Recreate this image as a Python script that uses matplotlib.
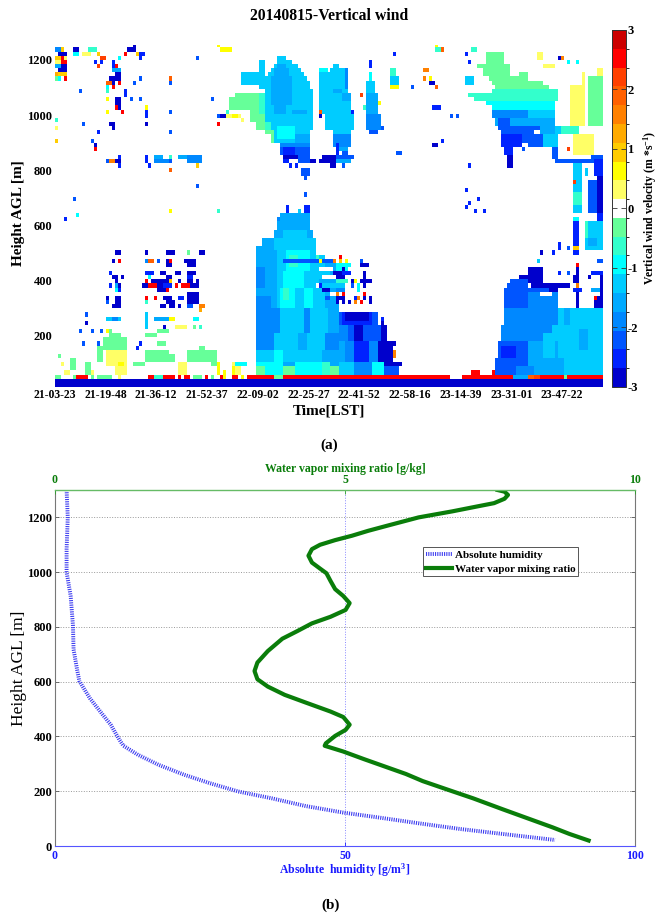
import numpy as np
import matplotlib as mpl
mpl.use('Agg')
import matplotlib.pyplot as plt
from matplotlib.colors import ListedColormap, BoundaryNorm

plt.rcParams['font.family'] = ['Liberation Serif', 'DejaVu Serif']
plt.rcParams['mathtext.fontset'] = 'custom'
plt.rcParams['mathtext.rm'] = 'Liberation Serif:bold'
plt.rcParams['mathtext.default'] = 'rm'

# panel a: colour levels of vertical wind (m/s)
level_letters = list('abcdefghiwjklmnopqr')
level_values = [-2.84, -2.53, -2.21, -1.89, -1.58, -1.26, -0.95, -0.63, -0.32, 0,
                0.32, 0.63, 0.95, 1.26, 1.58, 1.89, 2.21, 2.53, 2.84]
level_colors = ['#0000CC', '#0022FF', '#0055FF', '#0088FF', '#00AAFF', '#00CCFF', '#00FFFF',
                '#33FFCC', '#66FF99', '#FFFFFF', '#FFFF66', '#FFFF00', '#FFCC00', '#FFAA00',
                '#FF8000', '#FF6000', '#FF4000', '#FF0000', '#CC0000']
time_labels = ['21-03-23', '21-19-48', '21-36-12', '21-52-37', '22-09-02', '22-25-27',
               '22-41-52', '22-58-16', '23-14-39', '23-31-01', '23-47-22']
time_ticks = [0, 16.9, 33.8, 50.8, 67.7, 84.7, 101.6, 118.6, 135.5, 152.5, 169.2]

# observed patches: height from, height to (m), time bin from, time bin to, level
ground = [
    (15, 45, 0, 183, 'a'),
    (45, 60, 0, 2, 'i'), (45, 60, 6, 7, 'i'), (45, 60, 7, 11, 'q'), (45, 60, 12, 13, 'i'),
    (45, 60, 14, 19, 'i'), (45, 60, 21, 22, 'j'), (45, 60, 31, 33, 'q'), (45, 60, 33, 36, 'h'),
    (45, 60, 36, 40, 'q'), (45, 60, 41, 42, 'q'), (45, 60, 43, 44, 'q'), (45, 60, 44, 45, 'q'),
    (45, 60, 46, 49, 'i'), (45, 60, 50, 51, 'q'), (45, 60, 52, 53, 'i'), (45, 60, 55, 56, 'q'),
    (45, 60, 56, 57, 'k'), (45, 60, 59, 61, 'q'), (45, 60, 62, 63, 'k'), (45, 60, 64, 73, 'q'),
    (45, 60, 73, 76, 'i'), (45, 60, 76, 132, 'q'), (45, 60, 136, 153, 'q'), (45, 60, 153, 158, 'e'),
    (45, 60, 158, 160, 'o'), (45, 60, 160, 162, 'p'), (45, 60, 162, 170, 'q'), (45, 60, 170, 171, 'i'),
    (45, 60, 171, 183, 'q'),
    (60, 75, 139, 142, 'q'), (60, 75, 146, 149, 'q'), (60, 75, 111, 114, 'q'), (60, 75, 102, 103, 'q'),
]
lower_scatter = [
    (150, 200, 16, 24, 'i'), (200, 215, 18, 22, 'i'), (105, 165, 14, 16, 'i'),
    (90, 150, 17, 24, 'j'), (60, 90, 20, 24, 'j'), (90, 105, 21, 23, 'k'),
    (60, 100, 10, 12, 'i'), (60, 75, 12, 13, 'j'), (80, 120, 5, 7, 'i'), (120, 135, 1, 2, 'i'),
    (90, 105, 2, 3, 'j'), (60, 75, 3, 5, 'j'), (90, 110, 26, 30, 'i'), (105, 150, 30, 38, 'i'),
    (165, 180, 34, 37, 'i'), (210, 225, 34, 38, 'i'), (190, 200, 30, 34, 'i'), (105, 135, 38, 40, 'i'),
    (60, 105, 41, 44, 'j'), (105, 150, 44, 54, 'i'), (150, 165, 48, 50, 'i'), (90, 105, 52, 54, 'i'),
    (60, 105, 54, 55, 'k'), (60, 75, 56, 57, 'k'), (60, 105, 59, 62, 'j'), (60, 90, 59, 60, 'k'),
    (90, 105, 60, 64, 'g'),
    (225, 240, 40, 44, 'j'), (250, 265, 37, 40, 'k'), (255, 270, 33, 38, 'e'), (225, 285, 30, 31, 'f'),
    (225, 240, 36, 37, 'a'), (255, 270, 46, 48, 'g'), (225, 240, 48, 49, 'h'), (225, 240, 46, 47, 'i'),
    (240, 255, 10, 11, 'a'), (270, 285, 10, 11, 'c'), (210, 225, 8, 9, 'c'), (210, 225, 12, 13, 'c'),
    (210, 225, 15, 16, 'c'), (210, 225, 17, 18, 'k'), (165, 180, 9, 10, 'c'), (165, 180, 14, 15, 'c'),
    (150, 165, 27, 28, 'b'), (165, 180, 28, 29, 'b'),
    (255, 270, 17, 22, 'f'), (255, 270, 19, 21, 'd'), (210, 225, 18, 19, 'i'),
    (495, 510, 20, 22, 'a'), (465, 480, 19, 20, 'a'), (465, 480, 21, 22, 'q'), (420, 435, 18, 19, 'b'),
    (405, 420, 19, 21, 'a'), (405, 420, 22, 23, 'a'), (390, 405, 20, 21, 'a'), (375, 390, 18, 19, 'b'),
    (375, 390, 20, 21, 'e'), (375, 390, 21, 22, 'a'), (360, 375, 20, 21, 'g'), (360, 375, 21, 22, 'b'),
    (330, 345, 17, 18, 'a'), (315, 345, 20, 22, 'a'), (315, 330, 17, 18, 'c'), (300, 315, 19, 22, 'a'),
    (495, 510, 30, 31, 'a'), (495, 510, 37, 40, 'a'), (495, 510, 48, 50, 'a'), (495, 510, 44, 45, 'i'),
    (465, 480, 30, 31, 'd'), (465, 480, 31, 33, 'o'), (465, 480, 34, 35, 'c'), (450, 480, 37, 39, 'a'),
    (465, 480, 38, 39, 'q'), (465, 480, 43, 47, 'a'), (450, 465, 44, 47, 'a'), (420, 435, 30, 33, 'b'),
    (420, 435, 35, 37, 'a'), (420, 435, 40, 42, 'a'), (420, 435, 44, 47, 'a'), (405, 420, 31, 32, 'g'),
    (405, 420, 37, 39, 'a'), (405, 420, 44, 46, 'b'), (390, 405, 30, 31, 'q'), (390, 405, 32, 38, 'a'),
    (390, 405, 38, 39, 'l'), (390, 405, 41, 42, 'a'), (390, 405, 44, 46, 'a'), (390, 405, 47, 48, 'a'),
    (375, 390, 29, 31, 'a'), (375, 390, 31, 34, 'q'), (375, 390, 34, 36, 'a'), (375, 390, 36, 39, 'b'),
    (375, 390, 40, 41, 'q'), (375, 390, 42, 45, 'q'), (375, 390, 45, 48, 'a'), (360, 375, 34, 37, 'a'),
    (360, 375, 37, 38, 'q'), (315, 360, 44, 48, 'a'), (330, 345, 30, 31, 'q'), (330, 345, 33, 34, 'q'),
    (330, 345, 36, 39, 'a'), (330, 345, 41, 43, 'b'), (315, 330, 30, 31, 'h'), (315, 330, 37, 40, 'a'),
    (300, 315, 35, 37, 'a'), (300, 315, 38, 40, 'a'), (300, 315, 41, 42, 'a'), (300, 315, 44, 46, 'c'),
    (300, 315, 48, 50, 'n'), (285, 300, 48, 49, 'm'),
]
upper_scatter = [
    (1230, 1245, 0, 2, 'd'), (1230, 1245, 2, 3, 'l'), (1215, 1230, 1, 4, 'a'), (1200, 1215, 0, 2, 'l'),
    (1200, 1215, 2, 3, 'q'), (1200, 1215, 3, 4, 'j'), (1185, 1200, 0, 2, 'j'), (1185, 1200, 2, 4, 'q'),
    (1170, 1185, 0, 2, 'e'), (1170, 1185, 2, 4, 'a'), (1155, 1170, 1, 4, 'a'), (1140, 1155, 0, 1, 'm'),
    (1140, 1155, 1, 4, 'l'), (1125, 1140, 0, 1, 'i'), (1125, 1140, 1, 2, 'g'), (1125, 1140, 3, 4, 'q'),
    (1230, 1245, 6, 8, 'a'), (1215, 1230, 6, 8, 'g'), (1215, 1230, 9, 12, 'j'), (1230, 1245, 11, 14, 'h'),
    (1215, 1230, 14, 15, 'l'), (1185, 1215, 15, 16, 'b'), (1185, 1200, 13, 14, 'b'), (1200, 1215, 15, 17, 'p'),
    (1170, 1185, 14, 15, 'p'), (1230, 1245, 24, 27, 'a'), (1245, 1260, 26, 27, 'a'), (1215, 1230, 23, 24, 'q'),
    (1215, 1230, 27, 28, 'l'), (1200, 1230, 28, 29, 'b'), (1215, 1230, 29, 30, 'b'), (1170, 1200, 19, 20, 'b'),
    (1170, 1185, 20, 21, 'q'), (1200, 1215, 21, 22, 'g'),
    (1155, 1170, 19, 22, 'e'), (1140, 1155, 20, 22, 'a'), (1125, 1140, 18, 22, 'a'), (1110, 1125, 17, 19, 'o'),
    (1110, 1125, 19, 20, 'a'), (1110, 1125, 21, 22, 'q'), (1095, 1110, 17, 18, 'g'), (1095, 1110, 19, 20, 'q'),
    (1080, 1095, 17, 18, 'h'), (1065, 1095, 23, 24, 'b'), (1035, 1065, 20, 22, 'a'), (1020, 1035, 20, 21, 'q'),
    (1020, 1035, 21, 22, 'a'), (1005, 1020, 22, 23, 'q'), (1050, 1065, 17, 18, 'k'), (1005, 1020, 17, 18, 'k'),
    (960, 980, 18, 20, 'a'), (945, 960, 19, 20, 'a'), (1080, 1095, 8, 9, 'c'), (1110, 1125, 26, 27, 'c'),
    (1125, 1140, 28, 29, 'c'), (1050, 1065, 25, 26, 'c'), (1050, 1065, 28, 29, 'c'), (1020, 1035, 30, 31, 'k'),
    (990, 1020, 30, 31, 'b'), (960, 975, 30, 31, 'a'), (1125, 1140, 38, 39, 'o'), (1110, 1125, 38, 39, 'c'),
    (1005, 1020, 38, 39, 'c'), (930, 945, 38, 39, 'c'), (1200, 1215, 47, 48, 'c'), (1050, 1065, 52, 53, 'c'),
    (990, 1005, 54, 55, 'c'), (960, 975, 54, 55, 'q'), (990, 1005, 55, 57, 'a'), (1245, 1260, 54, 55, 'k'),
    (1230, 1245, 55, 59, 'k'), (960, 975, 9, 10, 'c'), (930, 945, 14, 15, 'b'), (900, 915, 12, 13, 'c'),
    (885, 900, 13, 14, 'a'), (870, 885, 13, 14, 'q'), (975, 990, 0, 1, 'h'), (945, 960, 0, 1, 'j'),
    (900, 915, 0, 1, 'l'), (825, 840, 17, 18, 'c'), (825, 840, 18, 20, 'n'), (825, 840, 20, 22, 'a'),
    (840, 855, 21, 22, 'b'), (810, 825, 21, 22, 'b'), (825, 855, 30, 31, 'b'), (810, 825, 31, 32, 'b'),
    (825, 840, 33, 38, 'd'), (840, 855, 33, 36, 'e'), (840, 855, 38, 39, 'h'), (825, 840, 38, 39, 'c'),
    (840, 855, 41, 44, 'e'), (825, 855, 44, 49, 'd'), (810, 825, 47, 48, 'l'), (795, 810, 38, 39, 'o'),
    (735, 750, 47, 48, 'c'), (690, 705, 6, 7, 'c'), (645, 660, 38, 39, 'k'), (645, 660, 54, 55, 'h'),
    (630, 645, 7, 8, 'g'), (615, 630, 3, 4, 'b'),
]
cloud_middle = [
    # left wing of the big cloud
    (1065, 1085, 60, 69, 'i'), (1040, 1065, 58, 69, 'i'), (1020, 1040, 58, 65, 'i'), (1115, 1150, 62, 68, 'f'),
    (1100, 1205, 68, 70, 'f'), (1005, 1025, 57, 58, 'h'), (985, 1000, 57, 62, 'j'), (985, 1000, 59, 61, 'k'),
    (970, 985, 62, 63, 'j'), (1010, 1040, 65, 70, 'i'), (980, 1010, 65, 72, 'i'), (950, 980, 67, 72, 'i'),
    (925, 950, 70, 73, 'i'), (905, 925, 72, 74, 'i'), (1000, 1080, 68, 70, 'h'), (950, 1000, 70, 72, 'h'),
    # big cloud
    (1205, 1220, 74, 77, 'f'), (1190, 1205, 74, 79, 'f'), (1175, 1190, 73, 81, 'f'), (1160, 1175, 72, 82, 'f'),
    (1145, 1160, 71, 83, 'f'), (1130, 1145, 70, 84, 'f'), (1100, 1130, 70, 85, 'f'), (980, 1100, 70, 86, 'f'),
    (950, 980, 72, 86, 'f'), (905, 950, 73, 85, 'f'), (1170, 1185, 74, 77, 'e'), (1140, 1170, 73, 78, 'e'),
    (1035, 1140, 72, 79, 'e'), (1010, 1035, 73, 77, 'e'), (1000, 1010, 79, 84, 'e'), (915, 965, 74, 80, 'g'),
    (905, 925, 80, 85, 'e'), (880, 905, 75, 85, 'd'), (855, 880, 75, 85, 'c'), (855, 880, 76, 80, 'b'),
    (835, 855, 76, 81, 'a'), (835, 855, 81, 85, 'c'), (820, 835, 76, 78, 'b'), (820, 835, 81, 86, 'c'),
    (820, 835, 85, 87, 'a'), (775, 810, 82, 85, 'c'), (760, 775, 83, 84, 'c'), (710, 725, 83, 84, 'c'),
    (605, 625, 74, 80, 'd'), (625, 645, 75, 79, 'b'), (645, 670, 77, 78, 'b'), (605, 650, 82, 85, 'c'),
    (650, 680, 83, 85, 'b'), (650, 665, 81, 82, 'f'),
    # second cloud
    (1170, 1185, 93, 95, 'f'), (1155, 1170, 88, 91, 'g'), (1155, 1170, 92, 97, 'f'), (1075, 1155, 88, 98, 'f'),
    (1012, 1075, 88, 99, 'f'), (950, 1012, 90, 100, 'f'), (925, 950, 93, 99, 'f'), (880, 925, 93, 99, 'd'),
    (865, 880, 95, 98, 'e'), (1100, 1170, 97, 98, 'd'), (1045, 1075, 96, 99, 'e'), (1080, 1100, 93, 96, 'e'),
    (860, 905, 94, 95, 'b'), (850, 865, 96, 98, 'c'), (835, 850, 89, 94, 'a'), (835, 850, 94, 100, 'c'),
    (820, 835, 88, 94, 'a'), (820, 835, 94, 99, 'e'), (805, 820, 92, 94, 'a'), (805, 820, 96, 97, 'c'),
    (1000, 1015, 88, 89, 'o'), (985, 1000, 88, 89, 'a'), (1000, 1015, 99, 100, 'b'), (805, 820, 78, 79, 'b'),
    (805, 820, 80, 81, 'b'),
    # third and fourth clouds
    (1120, 1160, 105, 106, 'g'), (1165, 1200, 105, 106, 'b'), (1075, 1120, 104, 107, 'f'), (1000, 1075, 104, 108, 'e'),
    (950, 1000, 104, 109, 'd'), (930, 950, 105, 108, 'c'), (1060, 1075, 102, 103, 'p'), (1040, 1055, 108, 109, 'k'),
    (1015, 1030, 103, 104, 'h'), (950, 965, 109, 110, 'c'),
    (1135, 1165, 112, 114, 'h'), (1105, 1135, 112, 115, 'f'), (1100, 1110, 114, 115, 'b'), (1090, 1105, 112, 115, 'k'),
    (1155, 1170, 123, 125, 'n'), (1125, 1140, 123, 124, 'n'), (1125, 1140, 125, 126, 'k'),
    (1110, 1125, 125, 127, 'a'), (1095, 1110, 127, 128, 'o'), (1210, 1225, 113, 114, 'b'),
    (1095, 1110, 119, 120, 'c'), (1245, 1260, 127, 128, 'k'), (1230, 1245, 127, 129, 'h'), (1230, 1245, 129, 130, 'o'),
    (1020, 1035, 126, 129, 'b'), (990, 1005, 132, 133, 'c'), (990, 1005, 134, 135, 'c'), (885, 900, 126, 128, 'a'),
    (895, 910, 129, 130, 'b'), (855, 870, 114, 115, 'c'), (855, 870, 115, 116, 'c'), (815, 830, 138, 139, 'b'),
    (715, 730, 137, 138, 'b'), (675, 690, 138, 139, 'b'), (660, 675, 137, 138, 'b'), (690, 705, 141, 142, 'b'),
    (650, 665, 140, 141, 'b'), (640, 655, 143, 144, 'b'), (1190, 1205, 138, 139, 'b'), (1220, 1235, 137, 138, 'b'),
    (1230, 1245, 139, 141, 'h'),
]
cloud_right = [
    (1188, 1230, 144, 150, 'i'), (1165, 1188, 141, 152, 'i'), (1145, 1165, 143, 152, 'i'), (1125, 1145, 145, 158, 'i'),
    (1104, 1125, 146, 163, 'i'), (1140, 1155, 155, 158, 'i'), (1090, 1104, 147, 165, 'i'), (1075, 1090, 146, 168, 'h'),
    (1060, 1075, 138, 168, 'h'), (1045, 1060, 140, 168, 'h'), (1105, 1140, 137, 140, 'f'), (1030, 1045, 144, 167, 'g'),
    (1020, 1030, 146, 167, 'g'), (995, 1020, 146, 167, 'f'), (995, 1020, 146, 158, 'd'), (960, 995, 147, 167, 'e'),
    (960, 995, 148, 152, 'c'), (940, 960, 148, 162, 'c'), (925, 940, 149, 160, 'c'), (925, 960, 162, 167, 'e'),
    (925, 960, 167, 169, 'f'), (925, 960, 169, 175, 'h'), (890, 925, 149, 156, 'b'), (900, 925, 156, 158, 'c'),
    (890, 925, 158, 163, 'c'), (890, 925, 163, 168, 'f'), (855, 890, 150, 153, 'b'), (816, 855, 151, 153, 'a'),
    (875, 890, 156, 157, 'c'), (840, 885, 166, 168, 'c'),
    (825, 840, 167, 183, 'c'), (960, 1105, 172, 177, 'j'), (860, 930, 173, 180, 'j'), (960, 1140, 178, 183, 'i'),
    (1140, 1165, 181, 183, 'j'), (1110, 1160, 176, 177, 'j'), (1170, 1180, 163, 167, 'j'), (1200, 1225, 161, 163, 'j'),
    (1200, 1215, 168, 169, 'a'), (1200, 1215, 169, 170, 'n'), (1185, 1200, 171, 172, 'g'), (1185, 1200, 174, 175, 'g'),
    (870, 885, 171, 172, 'p'), (840, 860, 179, 183, 'c'), (780, 840, 180, 183, 'b'),
    (630, 780, 181, 183, 'a'), (640, 770, 178, 181, 'c'), (640, 820, 173, 176, 'f'), (680, 720, 173, 176, 'h'),
    (780, 810, 177, 178, 'f'), (745, 760, 173, 174, 'p'), (600, 625, 173, 175, 'g'), (615, 640, 181, 183, 'b'),
    # scatter and the lower layer on the right
    (505, 620, 177, 183, 'f'), (520, 560, 178, 181, 'e'), (560, 610, 177, 178, 'h'),
    (500, 620, 173, 175, 'b'), (510, 525, 173, 175, 'l'), (445, 460, 174, 175, 'q'), (295, 445, 174, 175, 'a'),
    (380, 395, 174, 175, 'n'), (395, 420, 173, 175, 'a'), (360, 380, 173, 176, 'b'), (500, 515, 162, 163, 'a'),
    (500, 515, 166, 167, 'b'), (515, 535, 168, 169, 'b'), (510, 525, 171, 172, 'c'), (465, 480, 161, 162, 'f'),
    (425, 440, 168, 169, 'b'), (425, 440, 171, 172, 'c'), (420, 435, 179, 183, 'b'), (295, 420, 182, 183, 'a'),
    (365, 380, 179, 182, 'e'), (300, 340, 180, 182, 'a'), (325, 340, 180, 181, 'q'), (465, 480, 181, 182, 'c'),
    (465, 480, 182, 183, 'c'), (400, 415, 178, 179, 'a'),
    (390, 405, 152, 158, 'c'), (375, 390, 151, 158, 'c'), (345, 375, 150, 168, 'c'), (300, 345, 150, 165, 'c'),
    (300, 345, 165, 168, 'd'), (300, 360, 158, 168, 'd'), (390, 445, 158, 163, 'a'), (380, 390, 159, 172, 'a'),
    (405, 420, 155, 158, 'a'), (355, 380, 165, 168, 'a'), (345, 355, 162, 166, '.'),
    (60, 300, 168, 183, 'f'), (240, 300, 150, 168, 'd'), (180, 240, 149, 166, 'd'), (180, 240, 166, 183, 'f'),
    (125, 180, 148, 158, 'c'), (125, 180, 158, 168, 'e'), (125, 180, 168, 183, 'f'),
    (60, 125, 147, 158, 'c'), (125, 160, 149, 154, 'b'), (60, 125, 158, 170, 'e'), (115, 205, 163, 167, 'f'),
    (150, 220, 175, 178, 'e'), (240, 300, 170, 172, 'e'), (60, 90, 154, 160, 'd'),
]
cloud_lower = [
    # main block, painted from the outer silhouette inwards
    (620, 640, 75, 85, 'e'), (590, 620, 74, 85, 'e'), (550, 590, 73, 86, 'e'), (520, 550, 69, 87, 'e'),
    (490, 520, 67, 87, 'e'), (60, 490, 67, 90, 'e'), (60, 470, 90, 95, 'e'), (530, 590, 76, 84, 'f'),
    (500, 550, 73, 87, 'f'), (295, 500, 74, 90, 'f'), (440, 505, 77, 85, 'g'), (370, 440, 76, 83, 'g'),
    (295, 370, 75, 80, 'g'), (295, 370, 83, 86, 'g'), (450, 490, 78, 81, 'h'), (325, 370, 76, 78, 'h'),
    (295, 505, 67, 74, 'e'), (300, 350, 67, 72, 'd'), (380, 450, 67, 70, 'd'),
    (465, 480, 76, 93, 'c'), (465, 480, 93, 94, 'n'), (465, 480, 88, 89, 'k'), (480, 495, 87, 88, 'h'),
    (215, 295, 67, 75, 'd'), (145, 215, 67, 73, 'd'), (215, 295, 75, 83, 'f'), (145, 215, 73, 81, 'f'),
    (215, 295, 83, 85, 'd'), (145, 215, 81, 84, 'e'), (215, 295, 85, 91, 'f'), (145, 215, 84, 90, 'f'),
    (215, 295, 91, 95, 'e'), (145, 215, 90, 95, 'd'), (105, 145, 67, 73, 'f'), (105, 145, 73, 76, 'g'),
    (105, 145, 76, 89, 'f'), (105, 145, 89, 95, 'e'), (60, 105, 67, 73, 'g'), (60, 85, 67, 70, 'i'),
    (60, 105, 73, 76, 'g'), (60, 85, 76, 80, 'i'), (60, 105, 80, 89, 'g'), (60, 105, 89, 92, 'h'),
    (60, 85, 92, 95, 'i'),
    # dark block to the right
    (240, 285, 95, 96, 'c'), (240, 285, 96, 106, 'b'), (255, 285, 97, 105, 'a'), (240, 285, 106, 108, 'c'),
    (180, 240, 95, 98, 'd'), (180, 240, 98, 100, 'c'), (180, 240, 100, 103, 'a'), (180, 240, 103, 109, 'c'),
    (180, 240, 109, 111, 'a'), (107, 180, 95, 97, 'e'), (107, 180, 97, 100, 'd'), (107, 180, 100, 105, 'b'),
    (107, 180, 105, 108, 'd'), (107, 180, 108, 113, 'a'), (60, 107, 95, 100, 'f'), (60, 107, 100, 106, 'd'),
    (60, 107, 106, 110, 'g'), (60, 107, 110, 115, 'c'), (90, 107, 110, 116, 'a'), (125, 150, 113, 114, 'n'),
    (160, 180, 113, 114, 'a'), (240, 255, 109, 110, 'a'), (255, 270, 109, 110, 'b'),
    # mixed layer above the dark block
    (480, 495, 95, 96, 'q'), (465, 480, 95, 96, 'l'), (465, 480, 97, 98, 'k'), (450, 465, 94, 99, 'g'),
    (450, 465, 102, 105, 'a'), (465, 480, 102, 103, 'c'), (430, 445, 94, 98, 'g'), (430, 445, 96, 97, 'a'),
    (420, 435, 88, 92, 'f'), (420, 435, 93, 96, 'a'), (420, 435, 96, 99, 'b'), (405, 435, 103, 104, 'a'),
    (405, 420, 94, 97, 'a'), (395, 405, 95, 97, 'q'), (385, 400, 88, 94, 'e'), (385, 400, 94, 98, 'h'),
    (385, 400, 99, 100, 'a'), (385, 400, 100, 101, 'k'), (385, 400, 102, 106, 'a'), (370, 385, 87, 89, 'b'),
    (370, 385, 89, 97, 'f'), (370, 385, 99, 100, 'c'), (370, 385, 101, 102, 'g'), (370, 385, 103, 104, 'a'),
    (355, 370, 89, 92, 'a'), (355, 370, 94, 97, 'd'), (355, 370, 101, 102, 'g'), (340, 355, 94, 95, 'n'),
    (340, 355, 96, 97, 'q'), (340, 355, 103, 104, 'q'), (325, 340, 90, 92, 'c'), (325, 340, 94, 97, 'a'),
    (325, 340, 100, 101, 'b'), (325, 340, 101, 102, 'n'), (325, 340, 103, 104, 'a'), (325, 340, 105, 106, 'a'),
    (310, 325, 94, 95, 'a'), (310, 325, 96, 97, 'a'), (310, 325, 98, 99, 'a'), (310, 325, 100, 101, 'n'),
    (310, 325, 105, 106, 'a'), (310, 320, 102, 103, 'q'),
]
# blank cuts in the top of the lower layer
clear_cells = [
    (435, 450, 88, 93, '.'), (400, 420, 89, 92, '.'), (400, 415, 92, 94, '.'), (345, 360, 92, 94, '.'),
    (370, 385, 87, 88, '.'),
]

# panel b: profiles
mixing_height = [1300, 1294, 1282, 1268, 1252, 1240, 1222, 1200, 1172, 1151, 1133, 1117, 1100, 1084, 1060,
                 1035, 1013, 996, 968, 938, 913, 887, 862, 837, 813, 785, 757, 712, 670, 639, 609, 582, 552,
                 524, 491, 471, 443, 424, 402, 375, 366, 345, 317, 284, 263, 237, 205, 174, 134, 101, 68, 44, 20]
mixing_ratio = [7.63, 7.75, 7.81, 7.75, 7.57, 7.28, 6.85, 6.27, 5.77, 5.40, 5.12, 4.83, 4.57, 4.43, 4.37,
                4.43, 4.57, 4.68, 4.75, 4.83, 4.97, 5.08, 5.01, 4.75, 4.43, 4.18, 3.92, 3.67, 3.49, 3.44,
                3.49, 3.67, 3.96, 4.32, 4.75, 4.97, 5.08, 5.01, 4.83, 4.67, 4.65, 4.97, 5.33, 5.77, 6.05,
                6.34, 6.78, 7.21, 7.72, 8.15, 8.58, 8.87, 9.20]
humidity_height = [1300, 1200, 1084, 1000, 913, 804, 718, 645, 602, 540, 491, 443, 388, 366, 333, 296, 260,
                   230, 199, 174, 146, 122, 105, 83, 62, 44, 22]
abs_humidity = [2.0, 2.2, 2.0, 2.0, 2.7, 3.1, 3.2, 3.8, 4.2, 6.0, 7.8, 9.6, 11.1, 11.8, 14.3, 17.9, 22.3,
                26.6, 31.6, 37.4, 43.2, 49.7, 55.5, 62.7, 69.9, 77.2, 86.2]

# fill the time-height grid
n_cols = 183
n_rows = 83
wind = np.full((n_rows, n_cols), np.nan)
value_of = dict(zip(level_letters, level_values))
value_of['.'] = np.nan
for group in [ground, lower_scatter, upper_scatter, cloud_middle, cloud_right, cloud_lower, clear_cells]:
    for h0, h1, c0, c1, lev in group:
        r0 = int(round((h0 - 15) / 15))
        r1 = max(int(round((h1 - 15) / 15)), r0 + 1)
        wind[r0:r1, c0:c1] = value_of[lev]

W, H = 658, 913
fig = plt.figure(figsize=(W / 100, H / 100), dpi=100)
fig.patch.set_facecolor('white')

def axes_px(x0, y0, x1, y1):
    return fig.add_axes([x0 / W, 1 - y1 / H, (x1 - x0) / W, (y1 - y0) / H])

# panel a
ax1 = axes_px(55, 45, 603, 387)
boundaries = np.linspace(-3, 3, 20)
cmap = ListedColormap(level_colors)
norm = BoundaryNorm(boundaries, cmap.N)
x_edges = np.arange(n_cols + 1)
y_edges = 15 + 15 * np.arange(n_rows + 1)
mesh = ax1.pcolormesh(x_edges, y_edges, wind, cmap=cmap, norm=norm, shading='flat')
ax1.set_xlim(0, n_cols)
ax1.set_ylim(15, 1254)
for s in ax1.spines.values():
    s.set_visible(False)
ax1.set_xticks(time_ticks)
ax1.set_xticklabels(time_labels, fontsize=8.4, fontweight='bold')
ax1.set_yticks([200, 400, 600, 800, 1000, 1200])
ax1.set_yticklabels(['200', '400', '600', '800', '1000', '1200'], fontsize=9, fontweight='bold')
ax1.tick_params(length=0, pad=1.5)
ax1.tick_params(axis='y', pad=2)

cax = axes_px(612, 30, 626, 387)
cb = fig.colorbar(mesh, cax=cax, spacing='proportional', drawedges=False)
cb.set_ticks([-3, -2, -1, 0, 1, 2, 3])
cb.set_ticklabels(['-3', '-2', '-1', '0', '1', '2', '3'], fontsize=9, fontweight='bold')
cb.ax.tick_params(direction='in', length=3.5, width=0.6, left=True, right=True, pad=1, color='#333333')
cb.outline.set_linewidth(0.7)
cb.outline.set_edgecolor('#333333')

fig.text(329 / W, 1 - 16 / H, '20140815-Vertical wind', ha='center', va='center', fontsize=11.3, fontweight='bold')
fig.text(19 / W, 1 - 213 / H, 'Height AGL [m]', rotation=90, ha='center', va='center', fontsize=11, fontweight='bold')
fig.text(329 / W, 1 - 411 / H, 'Time[LST]', ha='center', va='center', fontsize=11, fontweight='bold')
fig.text(329 / W, 1 - 445 / H, '(a)', ha='center', va='center', fontsize=11, fontweight='bold')
fig.text(650 / W, 1 - 208 / H, r'Vertical wind velocity (m *s$^{-1}$)', rotation=90, ha='center', va='center',
         fontsize=8.5, fontweight='bold')

# panel b
ax2 = axes_px(55, 490, 635, 846)
ax2.set_xlim(0, 100)
ax2.set_ylim(0, 1300)
blue = '#1a1aff'
green = '#0a7d0a'
line1, = ax2.plot(abs_humidity, humidity_height, color='#3b3bf0', lw=2.8, linestyle=(0, (0.28, 0.3)),
                  label='Absolute humidity')
ax2.set_xticks([0, 50, 100])
ax2.set_xticklabels(['0', '50', '100'], color=blue, fontsize=8.5, fontweight='bold')
ax2.set_yticks([0, 200, 400, 600, 800, 1000, 1200])
ax2.set_yticklabels(['0', '200', '400', '600', '800', '1000', '1200'], fontsize=9, fontweight='bold')
ax2.tick_params(axis='x', direction='in', length=3, width=0.6, color=blue, pad=3)
ax2.tick_params(axis='y', direction='in', length=3, width=0.6, color='#555555', pad=2, right=True)
ax2.yaxis.grid(True, color='#999999', linestyle=':', lw=0.7)
ax2.xaxis.grid(True, color='#8888ff', linestyle=':', lw=0.7)
ax2.set_axisbelow(True)
ax2.spines['left'].set_color('#777777')
ax2.spines['right'].set_color('#777777')
ax2.spines['bottom'].set_color('#5555ff')
ax2.spines['top'].set_visible(False)
fig.text(345 / W, 1 - 870 / H, r'Absolute  humidity [g/m$^{3}$]', color=blue, ha='center', va='center',
         fontsize=8.5, fontweight='bold')

top = ax2.twiny()
top.set_xlim(0, 10)
line2, = top.plot(mixing_ratio, mixing_height, color=green, lw=3.0, label='Water vapor mixing ratio',
                  solid_joinstyle='round')
top.set_xticks([0, 5, 10])
top.set_xticklabels(['0', '5', '10'], color=green, fontsize=8.5, fontweight='bold')
top.tick_params(axis='x', direction='in', length=3, width=0.6, color='#2ca02c', pad=3)
top.spines['top'].set_color('#66bb66')
top.spines['top'].set_linewidth(1.0)
for side in ['left', 'right', 'bottom']:
    top.spines[side].set_visible(False)
fig.text(345 / W, 1 - 469 / H, 'Water vapor mixing ratio [g/kg]', color=green, ha='center', va='center',
         fontsize=8.5, fontweight='bold')

leg = top.legend([line1, line2], ['Absolute humidity', 'Water vapor mixing ratio'],
                 bbox_to_anchor=(423 / W, 1 - 577 / H, 155 / W, 30 / H), bbox_transform=fig.transFigure,
                 loc='center', fontsize=8, frameon=True, fancybox=False, edgecolor='#555555', framealpha=1,
                 handlelength=2.4, handletextpad=0.2, borderpad=0.25, labelspacing=0.35, borderaxespad=0,
                 prop={'weight': 'bold', 'size': 8})
leg.get_frame().set_linewidth(0.7)

fig.text(19 / W, 1 - 668 / H, 'Height AGL [m]', rotation=90, ha='center', va='center', fontsize=12.5)
fig.text(331 / W, 1 - 905 / H, '(b)', ha='center', va='center', fontsize=11, fontweight='bold')

fig.savefig('out.png', dpi=100)
